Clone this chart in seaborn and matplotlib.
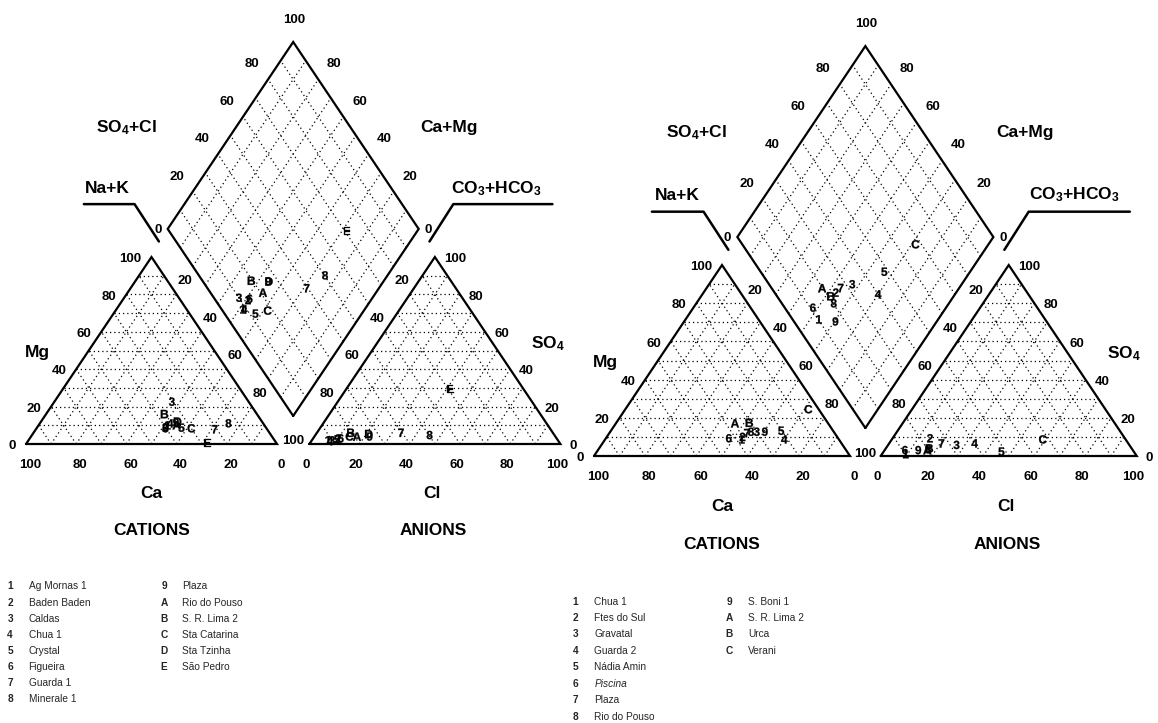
import numpy as np
import pandas as pd
import matplotlib
matplotlib.use("Agg")
import matplotlib.pyplot as plt
import seaborn as sns

# ---------------- data (percent of meq) ----------------
left_labels = ["1", "2", "3", "4", "5", "6", "7", "8", "9", "A", "B", "C", "D", "E"]
left_ca = [38.5, 40.0, 30.6, 37.0, 33.7, 40.3, 20.9, 13.8, 34.5, 35.0, 36.8, 29.9, 33.6, 27.3]
left_mg = [10.0, 9.0, 22.6, 11.0, 8.7, 8.4, 7.9, 11.1, 11.5, 10.0, 16.0, 8.4, 12.0, 0.7]
left_cl = [6.5, 10.0, 8.0, 7.5, 9.8, 11.0, 33.5, 45.5, 22.0, 17.0, 13.5, 14.0, 21.0, 41.5]
left_so4 = [2.0, 3.0, 2.0, 1.5, 2.5, 3.0, 6.0, 4.8, 4.0, 3.9, 6.0, 4.0, 5.3, 29.3]
left_names = ["Ag Mornas 1", "Baden Baden", "Caldas", "Chua 1", "Crystal", "Figueira",
              "Guarda 1", "Minerale 1", "Plaza", "Rio do Pouso", "S. R. Lima 2",
              "Sta Catarina", "Sta Tzinha", "São Pedro"]

right_labels = ["1", "2", "3", "4", "5", "6", "7", "8", "9", "A", "B", "C"]
right_ca = [37.9, 37.0, 30.1, 21.3, 20.3, 42.7, 34.3, 32.3, 26.9, 36.4, 30.6, 4.0]
right_mg = [8.7, 10.0, 12.7, 8.7, 13.2, 9.3, 12.0, 12.7, 12.7, 17.1, 17.4, 24.5]
right_cl = [9.3, 14.6, 26.7, 33.4, 46.0, 7.9, 20.4, 16.8, 13.1, 16.7, 17.0, 59.0]
right_so4 = [1.0, 9.3, 5.8, 6.6, 2.3, 3.1, 6.6, 3.5, 3.1, 3.0, 4.0, 8.7]
right_names = ["Chua 1", "Ftes do Sul", "Gravatal", "Guarda 2", "Nádia Amin", "Piscina",
               "Plaza", "Rio do Pouso", "S. Boni 1", "S. R. Lima 2", "Urca", "Verani"]
right_italic = ["Piscina"]

tick_values = [0, 20, 40, 60, 80, 100]

# ---------------- style ----------------
sns.set_theme(style="white")
plt.rcParams["font.family"] = ["Liberation Sans", "DejaVu Sans"]
plt.rcParams["mathtext.fontset"] = "custom"
plt.rcParams["mathtext.rm"] = "Liberation Sans"
plt.rcParams["mathtext.bf"] = "Liberation Sans:bold"
plt.rcParams["mathtext.it"] = "Liberation Sans:italic"

W, HPX = 1158, 723
H = np.sqrt(3) / 2 * 100.0  # triangle height in ternary units

fig = plt.figure(figsize=(W / 100, HPX / 100), dpi=100)
fig.patch.set_facecolor("white")

LAYOUT = [
    dict(x0=26, y0=444, sx=2.51, sy=2.159, gap=12.9, yb=13.0, leg_u=-6.3, leg_du=61.3),
    dict(x0=594, y0=456, sx=2.56, sy=2.205, gap=12.0, yb=12.7, leg_u=-7.2, leg_du=60.0),
]

NUM = dict(fontsize=9.5, fontweight="bold", color="black")
TIT = dict(fontsize=12.5, fontweight="bold", color="black")
GRID = dict(color="black", lw=0.9, ls=(0, (1, 2.4)), zorder=1)
EDGE = dict(color="black", lw=1.6, zorder=2, solid_joinstyle="miter")


def draw_piper(p, labels, ca, mg, cl, so4, names, italic=()):
    ax = fig.add_axes([0, 0, 1, 1])
    ax.set_xlim(-p["x0"] / p["sx"], (W - p["x0"]) / p["sx"])
    ax.set_ylim((p["y0"] - HPX) / p["sy"], p["y0"] / p["sy"])
    ax.set_axis_off()
    ax.patch.set_visible(False)

    ox = 100 + p["gap"]
    B = np.array([100 + p["gap"] / 2, p["yb"]])
    L = B + np.array([-50, H])
    R = B + np.array([50, H])
    T = B + np.array([0, 2 * H])

    # triangles: grid + outline
    for x0 in (0, ox):
        for k in range(10, 100, 10):
            v = H * k / 100
            ax.plot([x0 + k / 2, x0 + 100 - k / 2], [v, v], **GRID)
            ax.plot([x0 + k, x0 + k + (100 - k) / 2], [0, H * (100 - k) / 100], **GRID)
            ax.plot([x0 + k, x0 + k / 2], [0, H * k / 100], **GRID)
        ax.plot([x0, x0 + 100, x0 + 50, x0], [0, 0, H, 0], **EDGE)

    # diamond: grid + outline
    for k in range(10, 100, 10):
        f = k / 100
        p1, p2 = B + f * (L - B), B + f * (L - B) + (R - B)
        ax.plot([p1[0], p2[0]], [p1[1], p2[1]], **GRID)
        p1, p2 = B + f * (R - B), B + f * (R - B) + (L - B)
        ax.plot([p1[0], p2[0]], [p1[1], p2[1]], **GRID)
    d = np.array([B, L, T, R, B])
    ax.plot(d[:, 0], d[:, 1], **EDGE)

    # tick labels
    for t in tick_values:
        ax.text(t / 2 - 3.9, H * t / 100 - 1, str(t), ha="right", va="center", **NUM)
        ax.text(100 - t + 1.6, -9.5, str(t), ha="center", va="center", **NUM)
        ax.text(ox + t - 1.4, -9.5, str(t), ha="center", va="center", **NUM)
        ax.text(ox + 100 - t / 2 + 3.6, H * t / 100 - 1, str(t), ha="left", va="center", **NUM)
    for t in tick_values[1:-1]:
        f = t / 100
        q = L + f * (B - L) + np.array([-3.1, -7.0])
        ax.text(q[0], q[1], str(t), ha="center", va="center", **NUM)
        q = R + f * (B - R) + np.array([3.3, -7.0])
        ax.text(q[0], q[1], str(t), ha="center", va="center", **NUM)
        q = L + f * (T - L) + np.array([-6.4, 6.9])
        ax.text(q[0], q[1], str(t), ha="center", va="center", **NUM)
        q = R + f * (T - R) + np.array([6.4, 6.9])
        ax.text(q[0], q[1], str(t), ha="center", va="center", **NUM)
    ax.text(L[0] - 3.9, L[1] - 0.3, "0", ha="center", va="center", **NUM)
    ax.text(R[0] + 3.9, R[1] - 0.3, "0", ha="center", va="center", **NUM)
    ax.text(B[0], B[1] - 11.6, "100", ha="center", va="center", **NUM)
    ax.text(T[0] + 0.5, T[1] + 10.2, "100", ha="center", va="center", **NUM)

    # axis titles
    ax.text(4.6, 42.5, "Mg", ha="center", va="center", **TIT)
    ax.text(ox + 95, 46.5, r"SO$_\mathbf{4}$", ha="center", va="center", **TIT)
    ax.text(50, -23, "Ca", ha="center", va="center", **TIT)
    ax.text(ox + 49, -23, "Cl", ha="center", va="center", **TIT)
    ax.text(50, -40, "CATIONS", ha="center", va="center", **TIT)
    ax.text(ox + 49.5, -40, "ANIONS", ha="center", va="center", **TIT)
    ax.text(39.9, 146.5, r"SO$_\mathbf{4}$+Cl", ha="center", va="center", **TIT)
    ax.text(168.5, 146.5, "Ca+Mg", ha="center", va="center", **TIT)
    ax.text(32.4, 118.3, "Na+K", ha="center", va="center", **TIT)
    ax.text(187.5, 118.3, r"CO$_\mathbf{3}$+HCO$_\mathbf{3}$", ha="center", va="center", **TIT)

    # hooked axis-name lines
    hk = np.array([L + [-33.4, 11.5], L + [-13.2, 11.5], L + [-3.5, -5.8]])
    ax.plot(hk[:, 0], hk[:, 1], color="black", lw=1.8)
    hk = np.array([R + [4.3, -5.8], R + [13.8, 11.5], R + [53.3, 11.5]])
    ax.plot(hk[:, 0], hk[:, 1], color="black", lw=1.8)

    # samples: cation, anion and diamond positions
    ca, mg, cl, so4 = (np.asarray(a, float) for a in (ca, mg, cl, so4))
    cat_u = 100 - ca - mg / 2
    cat_v = H * mg / 100
    an_u = ox + cl + so4 / 2
    an_v = H * so4 / 100
    a = (ca + mg) / 100
    b = (cl + so4) / 100
    dia_u = B[0] + 50 * (b - a)
    dia_v = B[1] + H * (a + b)
    df = pd.DataFrame({
        "u": np.concatenate([cat_u, an_u, dia_u]),
        "v": np.concatenate([cat_v, an_v, dia_v]),
        "label": list(labels) * 3,
    })
    markers = {lab: r"$\mathbf{%s}$" % lab for lab in labels}
    sns.scatterplot(data=df, x="u", y="v", style="label", markers=markers,
                    color="black", edgecolor="black", linewidth=0.2, s=36,
                    legend=False, ax=ax, zorder=4)

    # sample legend
    for i, (lab, name) in enumerate(zip(labels, names)):
        col, row = (0, i) if i < 8 else (1, i - 8)
        u0 = p["leg_u"] + p["leg_du"] * col
        v0 = -66.0 - 7.45 * row
        ax.text(u0, v0, lab, ha="center", va="center", fontsize=7.3, fontweight="bold")
        ax.text(u0 + 7.3, v0, name, ha="left", va="center", fontsize=7.3,
                style="italic" if name in italic else "normal")
    return ax


draw_piper(LAYOUT[0], left_labels, left_ca, left_mg, left_cl, left_so4, left_names)
draw_piper(LAYOUT[1], right_labels, right_ca, right_mg, right_cl, right_so4, right_names,
           italic=right_italic)

fig.savefig("out.png", dpi=100, facecolor="white")
